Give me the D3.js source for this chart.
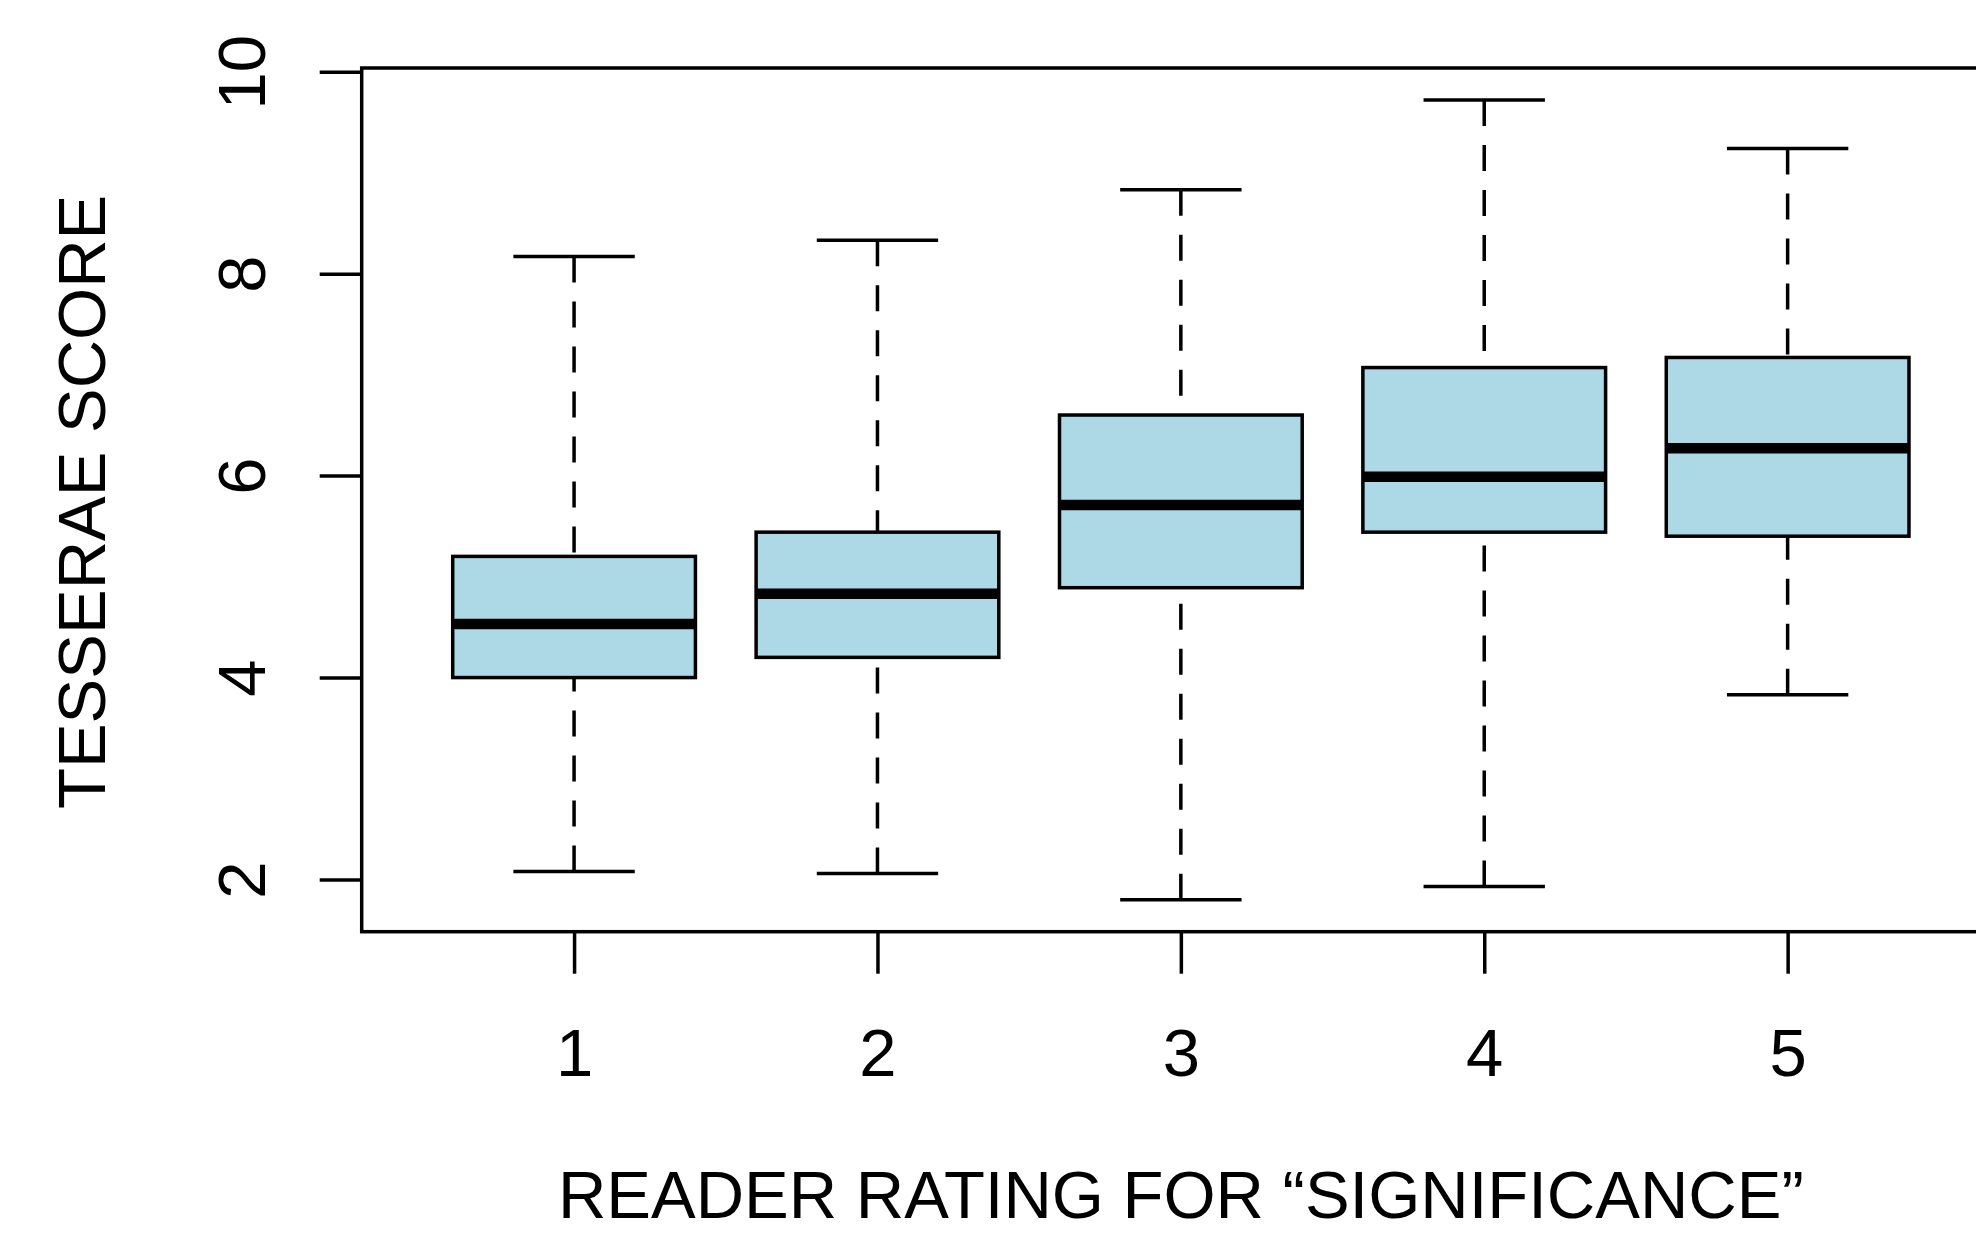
<!DOCTYPE html>
<html>
<head>
<meta charset="utf-8">
<script src="https://cdn.jsdelivr.net/npm/d3@7/dist/d3.min.js"></script>
<style>
  html, body { margin: 0; padding: 0; background: #ffffff; }
  svg { display: block; }
  text { font-family: "Liberation Sans", Arial, Helvetica, sans-serif; fill: #000; }
</style>
</head>
<body>
<script>
// ---- data ----
const categories = [1, 2, 3, 4, 5];
const whiskerLow  = [2.08, 2.06, 1.80, 1.93, 3.83];
const q1          = [4.00, 4.20, 4.89, 5.44, 5.40];
const median      = [4.53, 4.83, 5.71, 5.99, 6.27];
const q3          = [5.20, 5.44, 6.60, 7.07, 7.17];
const whiskerHigh = [8.17, 8.33, 8.83, 9.72, 9.24];
const yTicks = [2, 4, 6, 8, 10];
const xLabel = "READER RATING FOR \u201CSIGNIFICANCE\u201D";
const yLabel = "TESSERAE SCORE";

// ---- layout ----
const W = 1976, H = 1234;
const plot = { left: 361.7, right: 2000, top: 68, bottom: 931.7 };
const fontSize = 67;
const lw = 3.5;

const svg = d3.select("body").append("svg")
  .attr("width", W).attr("height", H);

// R-style 4% extended ranges
const n = categories.length;
const xr = [0.5, n + 0.5];
const xpad = (xr[1] - xr[0]) * 0.04;
const x = d3.scaleLinear()
  .domain([xr[0] - xpad, xr[1] + xpad])
  .range([plot.left, plot.right]);

const ymin = d3.min(whiskerLow), ymax = d3.max(whiskerHigh);
const ypad = (ymax - ymin) * 0.04;
const y = d3.scaleLinear()
  .domain([ymin - ypad, ymax + ypad])
  .range([plot.bottom, plot.top]);

const boxes = categories.map((c, i) => ({
  c, lo: whiskerLow[i], q1: q1[i], med: median[i], q3: q3[i], hi: whiskerHigh[i]
}));

const boxW = 0.8, capW = 0.4;
const g = svg.append("g");

// whiskers (dashed), drawn from the whisker end toward the box
g.selectAll("line.wup").data(boxes).join("line")
  .attr("x1", d => x(d.c)).attr("x2", d => x(d.c))
  .attr("y1", d => y(d.hi)).attr("y2", d => y(d.q3))
  .attr("stroke", "#000").attr("stroke-width", lw)
  .attr("stroke-dasharray", "26 19");
g.selectAll("line.wdn").data(boxes).join("line")
  .attr("x1", d => x(d.c)).attr("x2", d => x(d.c))
  .attr("y1", d => y(d.lo)).attr("y2", d => y(d.q1))
  .attr("stroke", "#000").attr("stroke-width", lw)
  .attr("stroke-dasharray", "26 19");

// caps
["hi", "lo"].forEach(k => {
  g.append("g").selectAll("line").data(boxes).join("line")
    .attr("x1", d => x(d.c - capW / 2)).attr("x2", d => x(d.c + capW / 2))
    .attr("y1", d => y(d[k])).attr("y2", d => y(d[k]))
    .attr("stroke", "#000").attr("stroke-width", lw);
});

// boxes
g.append("g").selectAll("rect").data(boxes).join("rect")
  .attr("x", d => x(d.c - boxW / 2))
  .attr("width", d => x(d.c + boxW / 2) - x(d.c - boxW / 2))
  .attr("y", d => y(d.q3))
  .attr("height", d => y(d.q1) - y(d.q3))
  .attr("fill", "#ADD8E6").attr("stroke", "#000").attr("stroke-width", lw);

// medians
g.append("g").selectAll("line").data(boxes).join("line")
  .attr("x1", d => x(d.c - boxW / 2)).attr("x2", d => x(d.c + boxW / 2))
  .attr("y1", d => y(d.med)).attr("y2", d => y(d.med))
  .attr("stroke", "#000").attr("stroke-width", lw * 3);

// frame
svg.append("rect")
  .attr("x", plot.left).attr("y", plot.top)
  .attr("width", plot.right - plot.left).attr("height", plot.bottom - plot.top)
  .attr("fill", "none").attr("stroke", "#000").attr("stroke-width", lw);

// y axis
const yAxisG = svg.append("g")
  .attr("transform", `translate(${plot.left},0)`)
  .call(d3.axisLeft(y).tickValues(yTicks).tickSize(42).tickFormat(d3.format("d")));
yAxisG.select(".domain").remove();
yAxisG.selectAll(".tick line").attr("stroke", "#000").attr("stroke-width", lw);
yAxisG.selectAll(".tick text")
  .attr("x", null).attr("dy", null)
  .attr("transform", "translate(-96.7,0) rotate(-90)")
  .attr("text-anchor", "middle")
  .style("font-size", fontSize + "px")
  .style("font-family", '"Liberation Sans", Arial, Helvetica, sans-serif')
  .attr("fill", "#000");

// x axis
const xAxisG = svg.append("g")
  .attr("transform", `translate(0,${plot.bottom})`)
  .call(d3.axisBottom(x).tickValues(categories).tickSize(42).tickFormat(d3.format("d")));
xAxisG.select(".domain").remove();
xAxisG.selectAll(".tick line").attr("stroke", "#000").attr("stroke-width", lw);
xAxisG.selectAll(".tick text")
  .attr("y", 1076 - plot.bottom).attr("dy", null)
  .attr("text-anchor", "middle")
  .style("font-size", fontSize + "px")
  .style("font-family", '"Liberation Sans", Arial, Helvetica, sans-serif')
  .attr("fill", "#000");

// axis titles
svg.append("text")
  .attr("x", (plot.left + plot.right) / 2).attr("y", 1218)
  .attr("text-anchor", "middle")
  .style("font-size", fontSize + "px")
  .text(xLabel);

svg.append("text")
  .attr("transform", `translate(105,${(plot.top + plot.bottom) / 2 + 2}) rotate(-90)`)
  .attr("text-anchor", "middle")
  .style("font-size", fontSize + "px")
  .text(yLabel);
</script>
</body>
</html>
